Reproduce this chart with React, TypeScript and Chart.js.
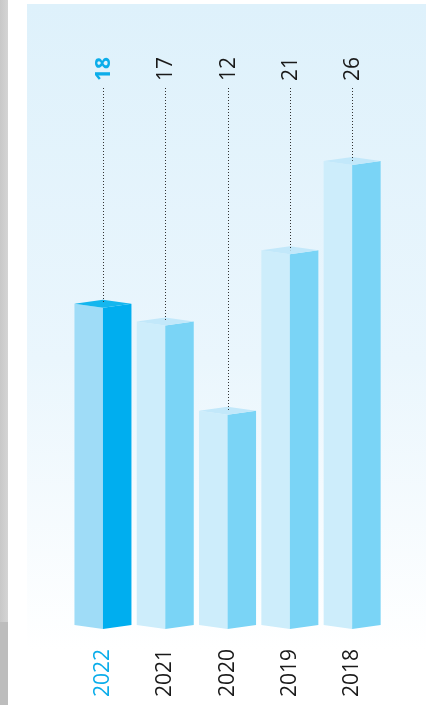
import React, { useEffect, useRef } from 'react';
import { Chart, registerables } from 'chart.js';

Chart.register(...registerables);

const years = ['2022', '2021', '2020', '2019', '2018'];
const values = [18, 17, 12, 21, 26];
const highlightIndex = 0;
const yMax = 30;

const FONT = '"Open Sans", "Noto Sans", sans-serif';
const BLUE = '#0badea';

export default function App() {
  const ref = useRef<HTMLCanvasElement>(null);

  useEffect(() => {
    const canvas = ref.current!;
    const bgPlugin = {
      id: 'bg',
      beforeDraw(chart: any) {
        const ctx = chart.ctx;
        ctx.save();
        const g = ctx.createLinearGradient(0, 0, 8, 0);
        g.addColorStop(0, '#c8c8c8');
        g.addColorStop(1, '#d4d4d4');
        ctx.fillStyle = g;
        ctx.fillRect(0, 0, 8, 622);
        ctx.fillStyle = '#bdbdbd';
        ctx.fillRect(0, 622, 8, 83);
        const pg = ctx.createLinearGradient(0, 4, 0, 650);
        pg.addColorStop(0, '#def1fb');
        pg.addColorStop(0.55, '#eaf6fd');
        pg.addColorStop(1, '#ffffff');
        ctx.fillStyle = pg;
        ctx.fillRect(27, 4, 399, 646);
        ctx.restore();
      },
    };

    const barPlugin = {
      id: 'bars3d',
      afterDatasetsDraw(chart: any) {
        const ctx = chart.ctx;
        const meta = chart.getDatasetMeta(0);
        const d = 4;
        ctx.save();
        meta.data.forEach((bar: any, i: number) => {
          const { x, y, base, width } = bar.getProps(['x', 'y', 'base', 'width'], true);
          const hl = i === highlightIndex;
          const l = x - width / 2;
          const r = x + width / 2;
          // left face
          ctx.fillStyle = hl ? '#9fdcf7' : '#cdedfb';
          ctx.beginPath();
          ctx.moveTo(l, y);
          ctx.lineTo(x, y + d);
          ctx.lineTo(x, base + d);
          ctx.lineTo(l, base);
          ctx.closePath();
          ctx.fill();
          // right face
          ctx.fillStyle = hl ? '#00aeef' : '#7ad4f6';
          ctx.beginPath();
          ctx.moveTo(x, y + d);
          ctx.lineTo(r, y);
          ctx.lineTo(r, base);
          ctx.lineTo(x, base + d);
          ctx.closePath();
          ctx.fill();
          // cap
          ctx.fillStyle = hl ? '#14b6ee' : '#c2e8fa';
          ctx.beginPath();
          ctx.moveTo(l, y);
          ctx.lineTo(x, y - d);
          ctx.lineTo(r, y);
          ctx.lineTo(x, y + d);
          ctx.closePath();
          ctx.fill();
          // dotted leader
          ctx.strokeStyle = '#333';
          ctx.lineWidth = 1;
          ctx.setLineDash([1, 2]);
          ctx.beginPath();
          ctx.moveTo(Math.round(x) + 0.5, 88);
          ctx.lineTo(Math.round(x) + 0.5, y);
          ctx.stroke();
          ctx.setLineDash([]);
          // value label
          ctx.save();
          ctx.translate(x + 1, 81);
          ctx.rotate(-Math.PI / 2);
          ctx.textAlign = 'left';
          ctx.textBaseline = 'middle';
          ctx.font = (hl ? 'bold ' : '') + '21px ' + FONT;
          ctx.fillStyle = hl ? BLUE : '#1a1a1a';
          ctx.fillText(String(values[i]), 0, 0);
          ctx.restore();
        });
        ctx.restore();
      },
    };

    const chart = new Chart(canvas, {
      type: 'bar',
      data: {
        labels: years,
        datasets: [
          {
            data: values,
            backgroundColor: 'rgba(0,0,0,0)',
            borderWidth: 0,
            barPercentage: 0.915,
            categoryPercentage: 1,
          },
        ],
      },
      options: {
        responsive: false,
        animation: false,
        devicePixelRatio: 1,
        layout: { padding: { top: 89.5, left: 71.8, right: 42.7, bottom: 0 } },
        plugins: { legend: { display: false }, tooltip: { enabled: false } },
        scales: {
          y: { display: false, min: 0, max: yMax },
          x: {
            grid: { display: false, drawTicks: false },
            border: { display: false },
            ticks: {
              minRotation: 90,
              maxRotation: 90,
              autoSkip: false,
              padding: 24,
              color: (c: any) => (c.index === highlightIndex ? BLUE : '#1a1a1a'),
              font: { family: FONT, size: 21 },
            },
            afterFit(axis: any) {
              axis.height = 80;
            },
          },
        },
      },
      plugins: [bgPlugin, barPlugin],
    });
    return () => chart.destroy();
  }, []);

  return (
    <div style={{ position: 'absolute', left: 0, top: 0, width: 426, height: 705 }}>
      <canvas ref={ref} width={426} height={705} />
    </div>
  );
}
